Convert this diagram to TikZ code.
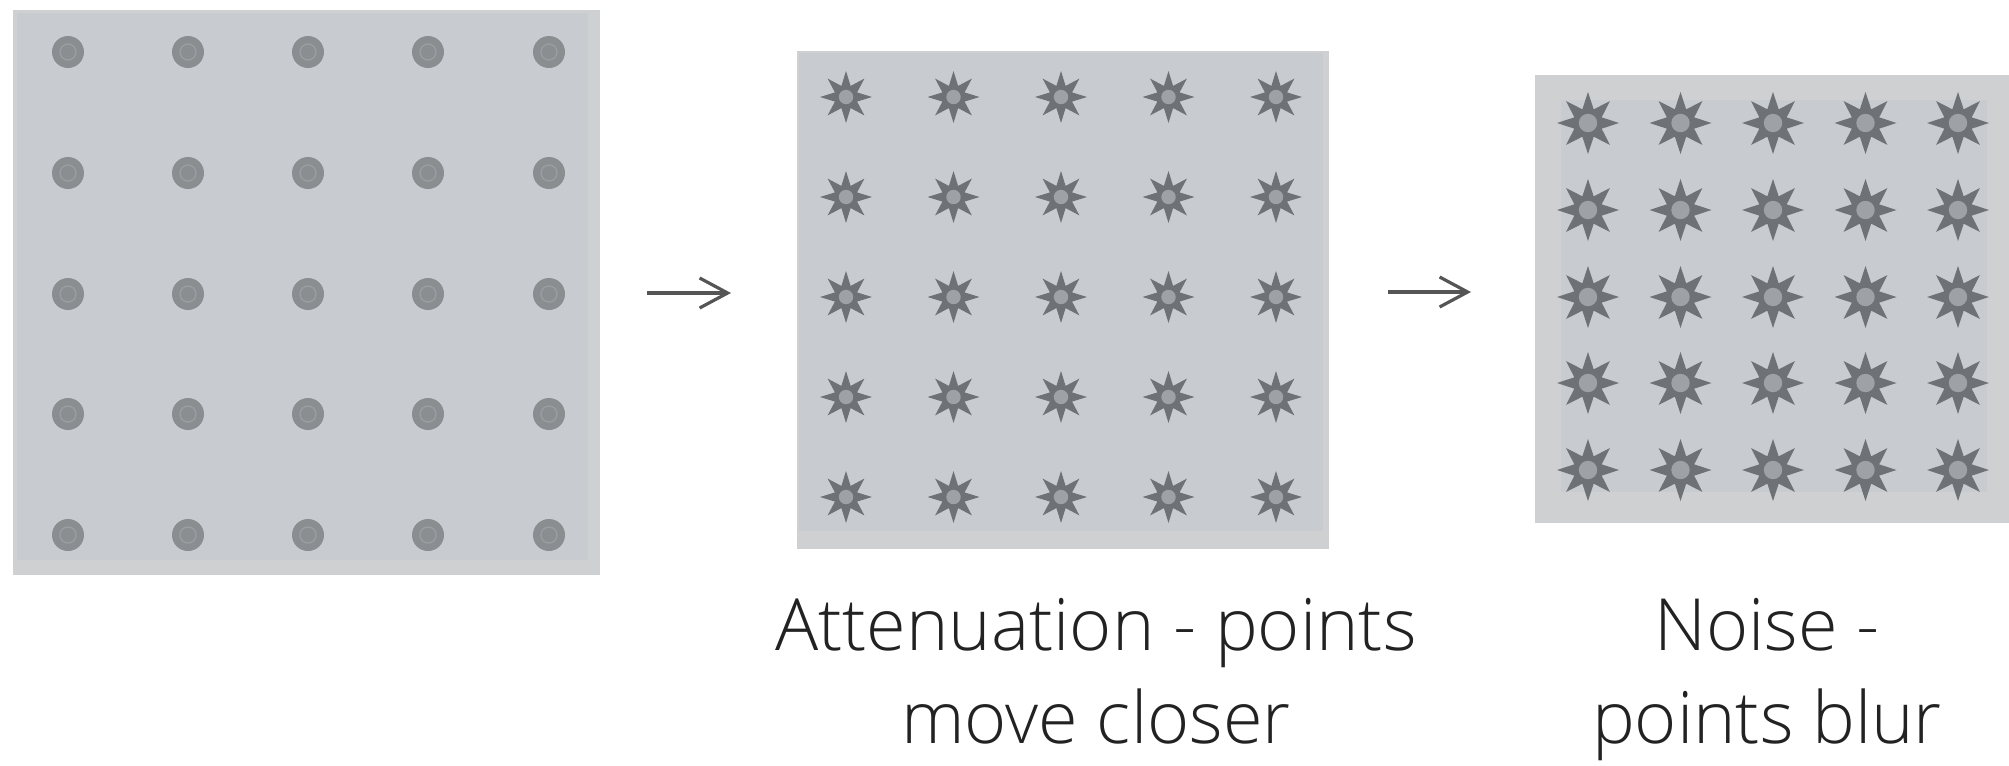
\documentclass[tikz,border=0pt]{standalone}
\usepackage{fontspec}
\usetikzlibrary{arrows.meta}
\newfontfamily\lbl{Open Sans Light}

\definecolor{framegray}{HTML}{CFD0D2}
\definecolor{panelgray}{HTML}{C8CCD0}
\definecolor{dotgray}{HTML}{8B8E91}
\definecolor{dotring}{HTML}{9A9DA0}
\definecolor{stargray}{HTML}{6E7276}
\definecolor{starcore}{HTML}{9EA2A6}
\definecolor{inkgray}{HTML}{555555}
\definecolor{textink}{HTML}{222222}

% eight-pointed star around a named point: #1 point, #2 outer radius, #3 inner radius
\newcommand{\eightstar}[3]{%
  \fill[stargray] (#1) +(90:#2)
    \foreach \k in {0,...,7}{ -- +(\k*45+112.5:#3) -- +(\k*45+135:#2) } -- cycle;}

\begin{document}
\begin{tikzpicture}[x=0.5pt,y=-0.5pt,
  frame/.style={fill=framegray, draw=none, inner sep=0pt, outer sep=0pt, anchor=north west},
  field/.style={fill=panelgray, draw=none, inner sep=0pt, outer sep=0pt, anchor=north west},
  dotmark/.style={circle, fill=dotgray, draw=none, inner sep=0pt, minimum size=16pt},
  arr/.style={draw=inkgray, line width=1.6pt, -{Straight Barb[length=14pt,width=15pt,line width=1.6pt]}},
  caption/.style={anchor=base, text=textink, inner sep=0pt, font=\lbl\fontsize{36}{42}\selectfont}
]
\useasboundingbox (0,0) rectangle (2009,766);

% ---- panel 1: regular grid of round points ----
\node[frame, minimum width=293.5pt, minimum height=282.5pt] (p1) at (13,10) {};
\node[field, minimum width=285.5pt, minimum height=273.5pt] (p1in) at (17,13) {};
\foreach \c/\x in {1/68,2/188,3/308,4/428,5/549}
  \foreach \r/\y in {1/52,2/173,3/294,4/414,5/535} {
    \node[dotmark] (d\c\r) at (\x,\y) {};
    \draw[dotring, line width=0.7pt] (d\c\r.center) circle (4pt);
  }

% ---- panel 2: points after attenuation ----
\node[frame, minimum width=266pt, minimum height=249pt] (p2) at (797,51) {};
\node[field, minimum width=262pt, minimum height=239pt] (p2in) at (799,53) {};
\foreach \c/\x in {1/846,2/953.5,3/1061,4/1168.5,5/1276}
  \foreach \r/\y in {1/97,2/197,3/297,4/397,5/497} {
    \coordinate (s\c\r) at (\x,\y);
    \eightstar{s\c\r}{13pt}{6pt}
    \fill[starcore] (s\c\r) circle (3.6pt);
  }

% ---- panel 3: points after noise ----
\node[frame, minimum width=237pt, minimum height=224pt] (p3) at (1535,75) {};
\node[field, minimum width=213pt, minimum height=196pt] (p3in) at (1561,100) {};
\foreach \c/\x in {1/1588,2/1680.5,3/1773,4/1865.5,5/1958}
  \foreach \r/\y in {1/123,2/210,3/297,4/383,5/470} {
    \coordinate (n\c\r) at (\x,\y);
    \eightstar{n\c\r}{15.5pt}{7.4pt}
    \fill[starcore] (n\c\r) circle (4.6pt);
  }

% ---- arrows between the stages ----
\coordinate (a1s) at (647,293);
\coordinate (a1e) at (731,293);
\coordinate (a2s) at (1388,292);
\coordinate (a2e) at (1471,292);
\draw[arr] (a1s) -- (a1e);
\draw[arr] (a2s) -- (a2e);

% ---- captions ----
\node[caption] (c2a) at (1096,650) {Attenuation - points};
\node[caption] (c2b) at (1096,743) {move closer};
\node[caption] (c3a) at (1767,650) {Noise -};
\node[caption] (c3b) at (1767,743) {points blur};
\end{tikzpicture}
\end{document}
